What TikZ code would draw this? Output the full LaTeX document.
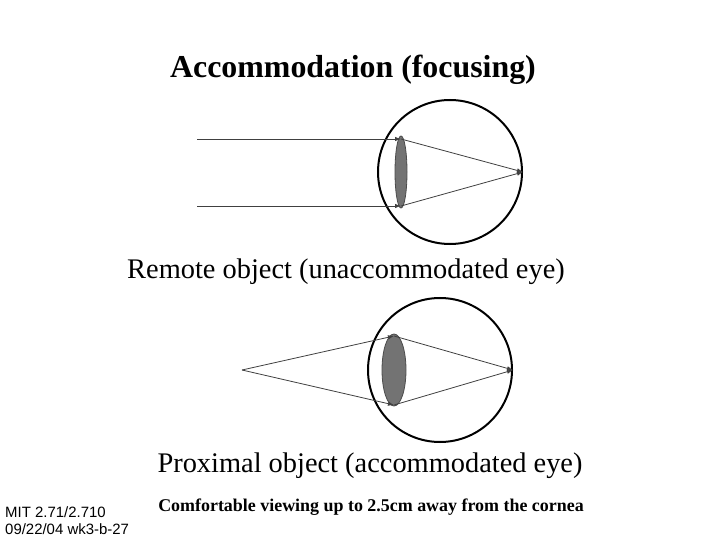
\documentclass[tikz,border=0pt]{standalone}
\usepackage{fontspec}
\setmainfont{Liberation Serif}
\newfontfamily\arialf{Liberation Sans}
\usetikzlibrary{arrows.meta,shapes.geometric}
\begin{document}
\begin{tikzpicture}[x=1bp,y=-1bp,
  ray/.style={draw=black!75,line width=0.8bp},
  arr/.style={ray,-{Latex[length=6bp,width=4.5bp]}},
  eye/.style={draw=black,line width=2bp},
  lens/.style={draw=black!70,fill=black!55,line width=0.8bp}]
\useasboundingbox (0,0) rectangle (720,540);
\node (title) at (353,70) {\fontsize{32}{36}\selectfont\bfseries Accommodation (focusing)};
% eye 1
\node[eye,circle,minimum size=144bp,inner sep=0] (e1) at (450,172) {};
\node[lens,ellipse,minimum width=12bp,minimum height=72bp,inner sep=0] (l1) at (401,172) {};
\coordinate (a1) at (197,139); \coordinate (b1) at (197,206);
\coordinate (t1) at (401,139); \coordinate (u1) at (401,206);
\coordinate (f1) at (523,172);
\draw[arr] (a1) -- (t1);
\draw[arr] (b1) -- (u1);
\draw[arr] (t1) -- (f1);
\draw[arr] (u1) -- (f1);
\node (c1) at (346,272) {\fontsize{28.5}{32}\selectfont Remote object (unaccommodated eye)};
% eye 2
\node[eye,circle,minimum size=144bp,inner sep=0] (e2) at (440,370) {};
\node[lens,ellipse,minimum width=24bp,minimum height=72bp,inner sep=0] (l2) at (394,370) {};
\coordinate (o2) at (242,370);
\coordinate (t2) at (394,336); \coordinate (u2) at (394,405);
\coordinate (f2) at (513,370);
\draw[arr] (o2) -- (t2);
\draw[arr] (o2) -- (u2);
\draw[arr] (t2) -- (f2);
\draw[arr] (u2) -- (f2);
\node (c2) at (370,466) {\fontsize{28.5}{32}\selectfont Proximal object (accommodated eye)};
\node (note) at (371,507) {\fontsize{18}{21}\selectfont\bfseries Comfortable viewing up to 2.5cm away from the cornea};
\node[anchor=west,align=left,inner sep=0,font=\arialf\fontsize{15}{17}\selectfont] (mit) at (5,521) {MIT 2.71/2.710\\09/22/04 wk3-b-27};
\end{tikzpicture}
\end{document}
